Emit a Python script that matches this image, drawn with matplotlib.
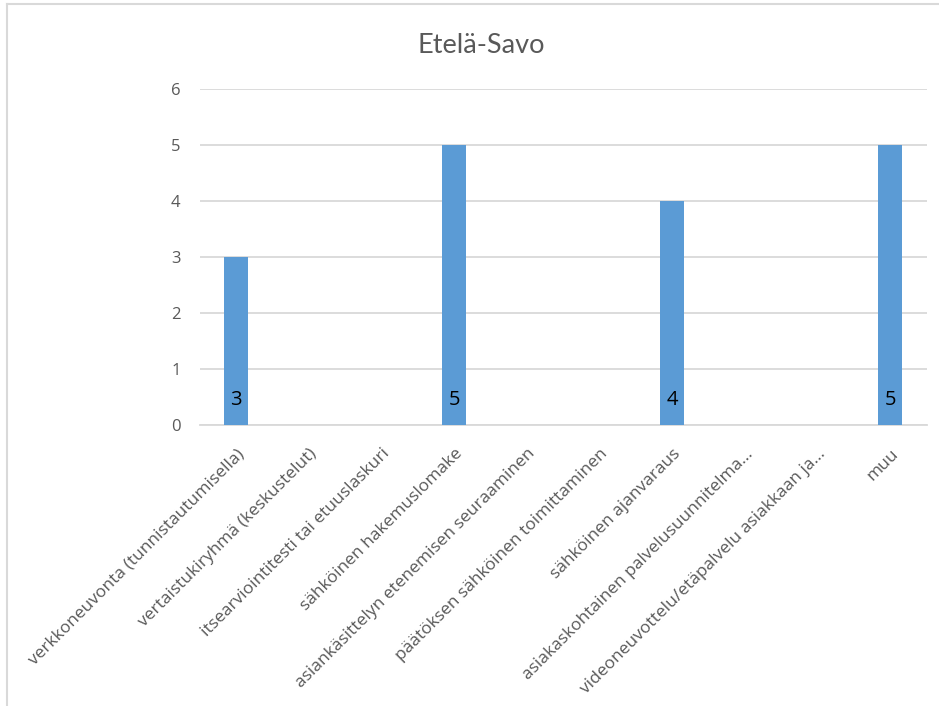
import matplotlib.pyplot as plt
from matplotlib.lines import Line2D
import numpy as np

plt.rcParams['font.family'] = ['Open Sans', 'DejaVu Sans']

categories = [
    'verkkoneuvonta (tunnistautumisella)',
    'vertaistukiryhmä (keskustelut)',
    'itsearviointitesti tai etuuslaskuri',
    'sähköinen hakemuslomake',
    'asiankäsittelyn etenemisen seuraaminen',
    'päätöksen sähköinen toimittaminen',
    'sähköinen ajanvaraus',
    'asiakaskohtainen palvelusuunnitelma...',
    'videoneuvottelu/etäpalvelu asiakkaan ja...',
    'muu',
]
values = [3, 0, 0, 5, 0, 0, 4, 0, 0, 5]
yticks = [0, 1, 2, 3, 4, 5, 6]

fig = plt.figure(figsize=(9.39, 7.06), dpi=100)
ax = fig.add_axes([0.213, 0.398, 0.774, 0.476])

x = np.arange(len(categories))
bars = ax.bar(x, values, width=0.33, color='#5b9bd5', zorder=3)

# value labels sit inside the bar, at its base
for xi, v in zip(x, values):
    if v > 0:
        ax.text(xi, 0.45, str(v), ha='center', va='center',
                fontsize=14.5, color='black', zorder=4)

ax.set_xlim(-0.5, len(categories) - 0.5)
ax.set_ylim(0, 6)
ax.set_yticks(yticks)
ax.set_xticks(x)
ax.set_xticklabels(categories, rotation=45, ha='right', va='top',
                   rotation_mode='anchor', color='#595959')
ax.tick_params(axis='both', length=0, labelsize=12, labelcolor='#595959')
ax.tick_params(axis='y', pad=14)
ax.tick_params(axis='x', pad=15, labelsize=12.5)

ax.grid(axis='y', color='#d9d9d9', linewidth=1.3, zorder=0)
for side in ['top', 'right', 'left']:
    ax.spines[side].set_visible(False)
ax.spines['bottom'].set_color('#d9d9d9')
ax.spines['bottom'].set_linewidth(1.3)

fig.text(0.512, 0.935, 'Etelä-Savo', ha='center', va='center',
         fontsize=19.5, color='#595959', family=['Lato', 'DejaVu Sans'])

# chart frame
fig.add_artist(Line2D([0.0075, 1.0], [0.994, 0.994], color='#d9d9d9', lw=1.5))
fig.add_artist(Line2D([0.0075, 0.0075], [0.0, 0.994], color='#d9d9d9', lw=1.5))

fig.savefig('out.png', dpi=100)
